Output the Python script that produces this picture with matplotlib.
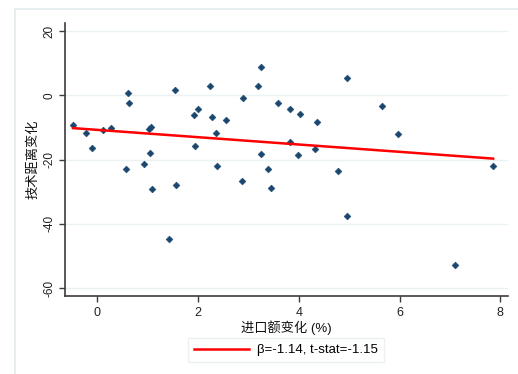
import matplotlib
matplotlib.use("Agg")
import matplotlib.pyplot as plt
import matplotlib.patches as mpatches
import numpy as np

plt.rcParams['font.family'] = ['Liberation Sans', 'Noto Sans CJK SC', 'DejaVu Sans']
plt.rcParams['axes.unicode_minus'] = False

import_change = [-0.476, -0.224, -0.093, 0.119, 0.272, 0.615, 0.635, 0.576, 0.933, 1.032,
                 1.066, 1.058, 1.085, 1.554, 1.574, 1.920, 2.000, 1.940, 2.243, 2.283,
                 2.561, 2.362, 2.387, 2.898, 2.878, 3.202, 3.261, 3.261, 3.389, 3.454,
                 3.583, 3.818, 3.818, 4.026, 3.990, 4.353, 4.332, 4.778, 4.949, 5.657,
                 5.962, 7.855, 1.423, 4.949, 7.093]
tech_distance_change = [-9.25, -11.66, -16.56, -10.72, -10.31, 0.84, -2.50, -23.1, -21.25, -10.41,
                        -10.0, -18.1, -29.25, 1.78, -28.0, -6.25, -4.25, -15.7, 2.81, -6.72,
                        -7.69, -11.66, -21.9, -0.81, -26.6, 2.81, 8.88, -18.4, -22.9, -28.9,
                        -2.28, -4.25, -14.7, -5.97, -18.75, -8.31, -16.81, -23.5, 5.53, -3.22,
                        -12.06, -21.9, -44.6, -37.7, -53.0]
beta = -1.14
intercept = -10.77
t_stat = -1.15
x_ticks = [0, 2, 4, 6, 8]
y_ticks = [20, 0, -20, -40, -60]
x_label = "进口额变化 (%)"
y_label = "技术距离变化"

navy = '#1a476f'
grid_c = '#EAF2F3'
axis_c = '#3c3c3c'

fig = plt.figure(figsize=(5.18, 3.74), dpi=100)
fig.patch.set_facecolor('white')

# outer graph-region border (cut at right/bottom)
fig.patches.append(mpatches.Rectangle((15/518, -0.1), 2.0, (374-9)/374 + 0.1,
                                      transform=fig.transFigure, fill=False,
                                      edgecolor='#E6EEF0', linewidth=1.5))

ax = fig.add_axes([65/518, (374-296)/374, (508-65)/518, (296-23)/374])
ax.set_xlim(-0.635, 8.15)
ax.set_ylim(-62.5, 22.5)

for yv in y_ticks:
    ax.axhline(yv, color=grid_c, linewidth=1.0, zorder=0)

xs = np.array(import_change)
ax.scatter(xs, tech_distance_change, marker='D', s=12, color=navy,
           edgecolors=navy, linewidths=0.4, zorder=3)

xl = np.array([xs.min(), xs.max()])
line, = ax.plot(xl, intercept + beta * xl, color='red', linewidth=1.8, zorder=4,
                label=f"β={beta:.2f}, t-stat={t_stat:.2f}")

for s in ['top', 'right']:
    ax.spines[s].set_visible(False)
for s in ['left', 'bottom']:
    ax.spines[s].set_color(axis_c)
    ax.spines[s].set_linewidth(1.2)

ax.set_xticks(x_ticks)
ax.set_yticks(y_ticks)
ax.tick_params(axis='x', direction='out', length=4, width=1, color=axis_c,
               labelsize=9, labelcolor='#222222', pad=4)
ax.tick_params(axis='y', direction='out', length=4, width=1, color=axis_c,
               labelsize=8.5, labelcolor='#222222', pad=3)
for lab in ax.get_yticklabels():
    lab.set_rotation(90)
    lab.set_va('center')

ax.set_xlabel(x_label, fontsize=9.5, color='#111111', labelpad=1)
ax.set_ylabel(y_label, fontsize=9.5, color='#111111', labelpad=3)

leg = fig.legend(handles=[line], loc='center', bbox_to_anchor=(286/518, (374-350)/374),
                 frameon=True, fancybox=False, fontsize=9.5, handlelength=4.2,
                 borderpad=0.45, handletextpad=0.6)
leg.get_frame().set_edgecolor('#E6EEF0')
leg.get_frame().set_linewidth(1.0)

fig.savefig('out.png', dpi=100)
